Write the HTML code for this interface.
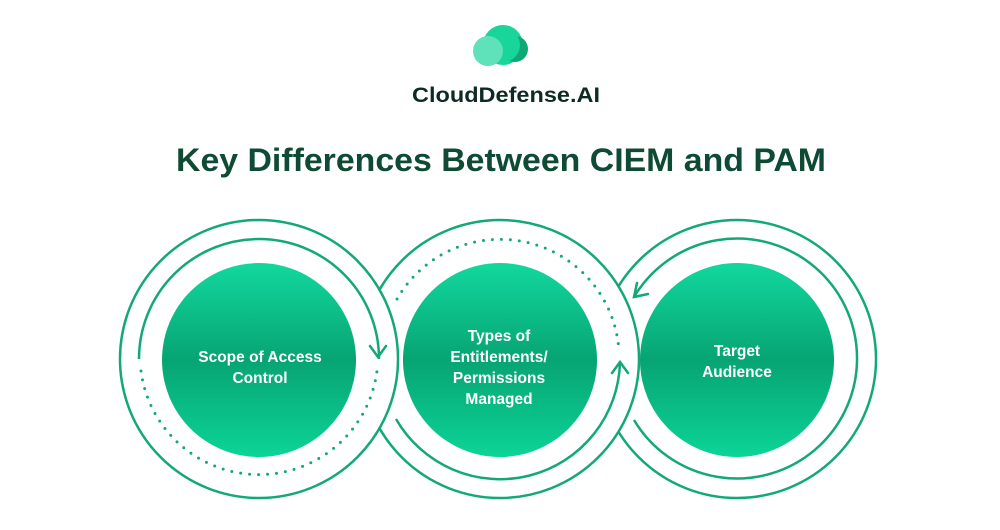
<!DOCTYPE html>
<html><head><meta charset="utf-8"><style>
html,body{margin:0;padding:0;background:#fff;}
svg{display:block;}
text{font-family:"Liberation Sans",sans-serif;font-weight:bold;}
</style></head><body>
<svg width="1000" height="530" viewBox="0 0 1000 530" xmlns="http://www.w3.org/2000/svg">
<defs>
<linearGradient id="g" x1="0" y1="0" x2="0" y2="1">
<stop offset="0" stop-color="#12d89e"/>
<stop offset="0.5" stop-color="#07a473"/>
<stop offset="1" stop-color="#0cd497"/>
</linearGradient>
</defs>
<rect width="1000" height="530" fill="#fff"/>
<!-- logo -->
<circle cx="503" cy="45" r="20" fill="#18d59a"/>
<circle cx="515" cy="49" r="13" fill="#0fa877"/>
<circle cx="503" cy="45" r="17" fill="#18d59a"/>
<circle cx="488" cy="51" r="15" fill="#5fe2ba"/>
<text x="506" y="102" text-anchor="middle" font-size="21" fill="#0d2b24" textLength="188" lengthAdjust="spacingAndGlyphs">CloudDefense.AI</text>
<text x="501" y="171" text-anchor="middle" font-size="32" fill="#0e4a34" textLength="650" lengthAdjust="spacingAndGlyphs">Key Differences Between CIEM and PAM</text>

<g fill="#fff" stroke="#12a877" stroke-width="2.5">
<circle cx="737" cy="359" r="139"/>
<circle cx="500" cy="359" r="139"/>
<circle cx="259" cy="359" r="139"/>
</g>
<g fill="none" stroke="#12a877" stroke-width="2.5">
<!-- left -->
<path d="M139,359 A120,120 0 0 1 379,359"/>
<path d="M370,346 L378,357 L386,346" stroke-linecap="round"/>
<path d="M141,371 A119,119 0 0 0 377,371" stroke-dasharray="0 9" stroke-linecap="round" stroke-width="3"/>
<!-- middle -->
<path d="M396,419 A120,120 0 0 0 620,362"/>
<path d="M612,373 L620,362 L628,373" stroke-linecap="round"/>
<path d="M397,299 A119,119 0 0 1 619,352" stroke-dasharray="0 9" stroke-linecap="round" stroke-width="3"/>
<!-- right -->
<path d="M634,297 A120,120 0 1 1 634,420"/>
<path d="M648,294 L634,297 L637,283" stroke-linecap="round"/>
</g>
<circle cx="259" cy="360" r="97" fill="url(#g)"/>
<circle cx="500" cy="360" r="97" fill="url(#g)"/>
<circle cx="737" cy="360" r="97" fill="url(#g)"/>
<g fill="#fff" font-size="15.5" text-anchor="middle">
<text x="260" y="362">Scope of Access</text>
<text x="260" y="383">Control</text>
<text x="499" y="341">Types of</text>
<text x="499" y="362">Entitlements/</text>
<text x="499" y="383">Permissions</text>
<text x="499" y="404">Managed</text>
<text x="737" y="356">Target</text>
<text x="737" y="377">Audience</text>
</g>
</svg>
</body></html>
